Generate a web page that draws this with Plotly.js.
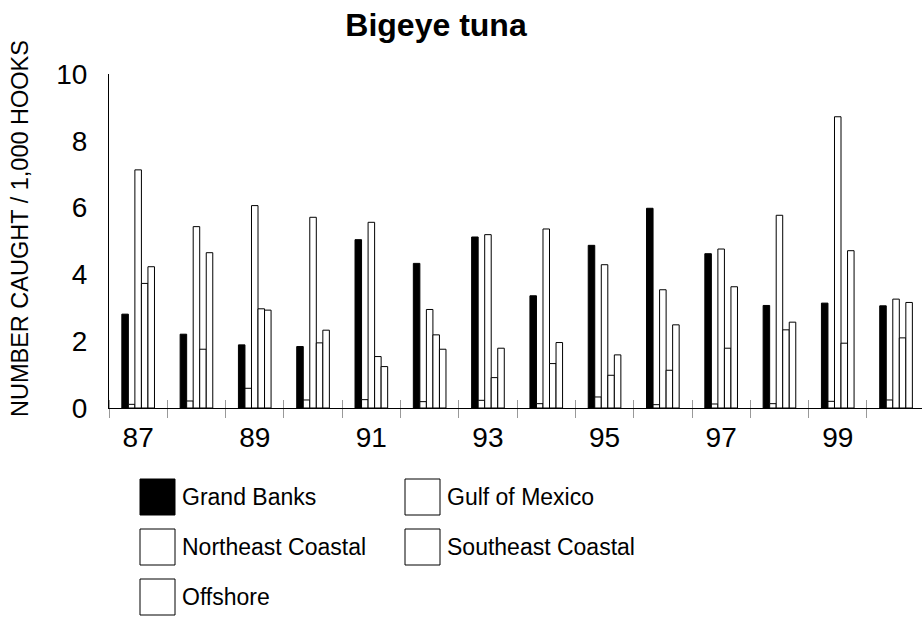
<!DOCTYPE html>
<html>
<head>
<meta charset="utf-8">
<script src="https://cdn.plot.ly/plotly-3.0.1.min.js"></script>
<style>html,body{margin:0;padding:0;background:#fff;}#chart{width:922px;height:619px;}</style>
</head>
<body>
<div id="chart"></div>
<script>
// ---- data ----
var years = [87, 88, 89, 90, 91, 92, 93, 94, 95, 96, 97, 98, 99, 100];
var tickYears = [87, 89, 91, 93, 95, 97, 99];
var tickLabels = ['87', '89', '91', '93', '95', '97', '99'];
var seriesNames = ['Grand Banks', 'Gulf of Mexico', 'Northeast Coastal', 'Southeast Coastal', 'Offshore'];
var grandBanks       = [2.81, 2.21, 1.89, 1.84, 5.04, 4.33, 5.12, 3.36, 4.87, 5.98, 4.62, 3.07, 3.14, 3.06];
var gulfOfMexico     = [0.11, 0.21, 0.59, 0.24, 0.25, 0.19, 0.23, 0.13, 0.33, 0.10, 0.12, 0.13, 0.20, 0.24];
var northeastCoastal = [7.13, 5.43, 6.06, 5.71, 5.56, 2.95, 5.19, 5.36, 4.29, 3.54, 4.76, 5.77, 8.72, 3.26];
var southeastCoastal = [3.73, 1.76, 2.97, 1.95, 1.54, 2.19, 0.91, 1.33, 0.98, 1.13, 1.79, 2.34, 1.94, 2.10];
var offshore         = [4.23, 4.65, 2.93, 2.33, 1.24, 1.76, 1.79, 1.96, 1.59, 2.49, 3.63, 2.57, 4.71, 3.16];

var seriesValues = [grandBanks, gulfOfMexico, northeastCoastal, southeastCoastal, offshore];
var fills = ['#000000', '#ffffff', '#ffffff', '#ffffff', '#ffffff'];

var FONT = 'Liberation Sans, Arial, Helvetica, sans-serif';

var traces = seriesValues.map(function (vals, i) {
  return {
    type: 'bar',
    name: seriesNames[i],
    x: years,
    y: vals,
    marker: { color: fills[i], line: { color: '#000000', width: 1 } },
    hoverinfo: 'x+y+name'
  };
});
// empty trace to carry the overlay axis (tick marks above the baseline)
traces.push({ type: 'scatter', x: [], y: [], xaxis: 'x2', yaxis: 'y', showlegend: false, hoverinfo: 'skip' });

// plot geometry (pixels)
var L = 109, T = 74, B = 211, W = 922, H = 619;
var plotH = H - T - B;
function py(p) { return (H - B - p) / plotH; }      // pixel y -> paper y
var plotW = W - L;
function px(p) { return (p - L) / plotW; }           // pixel x -> paper x

var xr = [86.5, 86.5 + plotW / 58.3];

var shapes = [];
var annotations = [];
// manual legend with large swatches
var legCols = [140, 405], legRows = [497, 547, 597];
seriesNames.forEach(function (nm, i) {
  var cx = legCols[i % 2], cy = legRows[Math.floor(i / 2)];
  shapes.push({
    type: 'rect', xref: 'paper', yref: 'paper',
    x0: px(cx), x1: px(cx + 35), y0: py(cy + 18), y1: py(cy - 18),
    fillcolor: fills[i], line: { color: '#000000', width: 1 }
  });
  annotations.push({
    xref: 'paper', yref: 'paper', x: px(cx + 40), y: py(cy),
    xanchor: 'left', yanchor: 'middle', showarrow: false,
    text: nm, font: { family: FONT, size: 23, color: '#000' }
  });
});
// y-axis title
annotations.push({
  xref: 'paper', yref: 'paper', x: px(20), y: py(229),
  xanchor: 'center', yanchor: 'middle', showarrow: false, textangle: -90,
  text: 'NUMBER CAUGHT / 1,000 HOOKS', font: { family: FONT, size: 23.5, color: '#000' }
});

var layout = {
  width: W, height: H,
  margin: { l: L, r: 0, t: T, b: B, pad: 0 },
  paper_bgcolor: '#ffffff', plot_bgcolor: '#ffffff',
  showlegend: false,
  barmode: 'group', bargap: 0.44, bargroupgap: 0,
  font: { family: FONT, color: '#000' },
  title: {
    text: '<b>Bigeye tuna</b>',
    font: { family: FONT, size: 32, color: '#000' },
    xref: 'paper', x: px(436), xanchor: 'center',
    yref: 'container', y: 1 - 25 / H, yanchor: 'middle'
  },
  xaxis: {
    range: xr, showgrid: false, zeroline: false,
    showline: true, linecolor: '#000', linewidth: 1,
    tickmode: 'array', tickvals: tickYears, ticktext: tickLabels,
    ticks: '', ticklabelstandoff: 4,
    tickfont: { family: FONT, size: 28, color: '#000' },
    minor: { ticks: 'outside', tick0: 86.5, dtick: 1, ticklen: 9, tickcolor: '#999', tickwidth: 1, showgrid: false }
  },
  xaxis2: {
    overlaying: 'x', side: 'bottom', range: xr, anchor: 'y',
    showgrid: false, zeroline: false, showline: false, showticklabels: false,
    tickmode: 'array', tickvals: [], ticks: '',
    minor: { ticks: 'inside', tick0: 86.5, dtick: 1, ticklen: 8, tickcolor: '#999', tickwidth: 1, showgrid: false }
  },
  yaxis: {
    range: [0, 10], dtick: 2, tick0: 0, showgrid: false, zeroline: false,
    showline: true, linecolor: '#000', linewidth: 1,
    ticks: '', ticklabelstandoff: 15,
    tickfont: { family: FONT, size: 28, color: '#000' }
  },
  shapes: shapes,
  annotations: annotations
};

Plotly.newPlot('chart', traces, layout, { displayModeBar: false, staticPlot: false });
</script>
</body>
</html>
